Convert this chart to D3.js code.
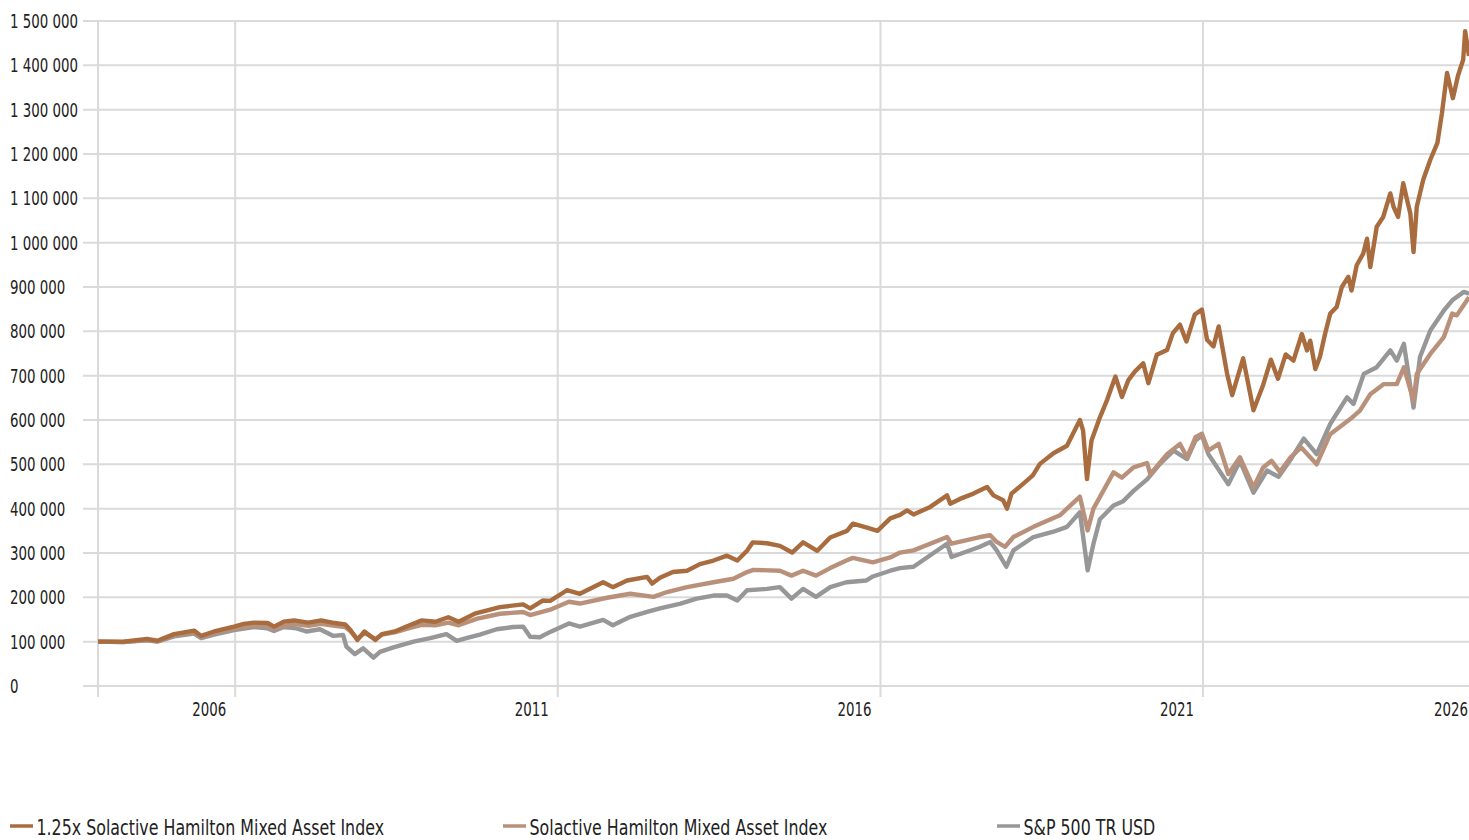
<!DOCTYPE html>
<html>
<head>
<meta charset="utf-8">
<script src="https://cdn.jsdelivr.net/npm/d3@7"></script>
<style>
  body { margin: 0; background: #fff; }
  text { font-family: "DejaVu Sans", sans-serif; font-size: 19px; fill: #222; }
</style>
</head>
<body>
<svg id="chart"></svg>
<script>
// values in thousands, dates as decimal years
const yTicks = [0, 100, 200, 300, 400, 500, 600, 700, 800, 900, 1000, 1100, 1200, 1300, 1400, 1500];
const startYear = 2004.87, endYear = 2026.12;
const yearEnds = ["2006-12-31", "2011-12-31", "2016-12-31", "2021-12-31"];

const seriesNames = ["1.25x Solactive Hamilton Mixed Asset Index", "Solactive Hamilton Mixed Asset Index", "S&P 500 TR USD"];
const seriesColors = ["#a86c3f", "#b9917a", "#979797"];

const levered = [
  [2004.87,100],[2005.26,100],[2005.63,106],[2005.79,102],[2006.05,117],[2006.36,125],[2006.47,113],[2006.67,123],
  [2006.98,134],[2007.13,140],[2007.29,143],[2007.50,142],[2007.60,134],[2007.75,145],[2007.91,148],[2008.13,143],
  [2008.33,148],[2008.54,142],[2008.70,139],[2008.78,127],[2008.89,104],[2009.00,123],[2009.17,104],[2009.27,117],
  [2009.47,123],[2009.68,136],[2009.89,148],[2010.10,145],[2010.30,155],[2010.46,145],[2010.71,163],[2011.10,178],
  [2011.46,184],[2011.57,175],[2011.77,193],[2011.88,192],[2012.14,216],[2012.34,208],[2012.70,234],[2012.85,223],
  [2013.07,238],[2013.38,246],[2013.46,231],[2013.58,244],[2013.78,257],[2014.00,260],[2014.20,275],[2014.41,283],
  [2014.62,294],[2014.78,283],[2014.93,305],[2015.02,324],[2015.24,322],[2015.44,316],[2015.63,301],[2015.80,324],
  [2016.02,305],[2016.22,335],[2016.48,350],[2016.57,366],[2016.79,357],[2016.95,350],[2017.15,378],[2017.30,386],
  [2017.41,396],[2017.51,387],[2017.77,404],[2018.03,430],[2018.08,411],[2018.23,422],[2018.44,434],[2018.65,449],
  [2018.75,430],[2018.90,419],[2018.96,400],[2019.03,434],[2019.21,456],[2019.36,475],[2019.47,501],[2019.68,525],
  [2019.89,542],[2020.09,600],[2020.14,576],[2020.20,467],[2020.27,554],[2020.40,606],[2020.51,645],[2020.64,698],
  [2020.74,652],[2020.84,690],[2020.94,709],[2021.07,728],[2021.15,683],[2021.28,747],[2021.44,758],[2021.53,796],
  [2021.64,815],[2021.74,777],[2021.87,838],[2021.98,849],[2022.06,781],[2022.16,766],[2022.24,811],[2022.37,705],
  [2022.45,656],[2022.62,739],[2022.78,622],[2022.93,679],[2023.05,736],[2023.16,693],[2023.28,748],[2023.40,734],
  [2023.53,794],[2023.61,757],[2023.66,779],[2023.74,715],[2023.81,742],[2023.89,794],[2023.97,840],[2024.07,855],
  [2024.15,900],[2024.25,923],[2024.30,892],[2024.38,949],[2024.48,975],[2024.54,1009],[2024.59,945],[2024.69,1036],
  [2024.79,1058],[2024.90,1111],[2024.95,1081],[2025.02,1058],[2025.10,1134],[2025.16,1096],[2025.21,1066],[2025.26,979],
  [2025.31,1081],[2025.41,1142],[2025.52,1187],[2025.63,1225],[2025.70,1292],[2025.78,1383],[2025.87,1326],[2025.95,1377],
  [2026.03,1413],[2026.06,1477],[2026.12,1421]
];

const mixed = [
  [2004.87,100],[2005.26,99],[2005.63,104],[2005.79,101],[2006.05,115],[2006.36,122],[2006.47,111],[2006.67,120],
  [2006.98,130],[2007.29,137],[2007.50,136],[2007.60,130],[2007.91,140],[2008.13,136],[2008.33,140],[2008.54,136],
  [2008.70,133],[2008.78,124],[2008.89,106],[2009.00,120],[2009.17,106],[2009.27,116],[2009.47,121],[2009.68,130],
  [2009.89,138],[2010.10,137],[2010.30,143],[2010.46,137],[2010.75,152],[2011.10,163],[2011.46,167],[2011.57,160],
  [2011.88,172],[2012.17,190],[2012.34,186],[2012.76,199],[2013.12,208],[2013.48,201],[2013.69,212],[2014.00,223],
  [2014.41,234],[2014.72,242],[2014.93,257],[2015.03,262],[2015.44,260],[2015.62,249],[2015.80,260],[2016.00,249],
  [2016.22,266],[2016.47,283],[2016.57,289],[2016.88,279],[2017.15,290],[2017.30,301],[2017.51,306],[2018.03,336],
  [2018.10,321],[2018.54,336],[2018.70,340],[2018.80,325],[2018.93,314],[2019.06,336],[2019.37,359],[2019.78,385],
  [2020.09,427],[2020.21,351],[2020.30,400],[2020.61,482],[2020.74,470],[2020.92,493],[2021.13,503],[2021.18,478],
  [2021.44,523],[2021.64,546],[2021.75,516],[2021.88,561],[2021.98,569],[2022.08,531],[2022.24,546],[2022.39,478],
  [2022.57,516],[2022.78,448],[2022.93,493],[2023.06,508],[2023.19,483],[2023.35,515],[2023.52,538],[2023.76,500],
  [2023.97,568],[2024.28,602],[2024.43,621],[2024.59,658],[2024.80,681],[2025.00,681],[2025.11,719],[2025.26,643],
  [2025.31,704],[2025.52,749],[2025.73,787],[2025.86,840],[2025.93,836],[2026.12,877]
];

const spx = [
  [2004.87,100],[2005.26,99],[2005.63,103],[2005.79,100],[2006.05,112],[2006.36,118],[2006.47,108],[2006.67,116],
  [2006.98,126],[2007.29,133],[2007.50,130],[2007.60,124],[2007.75,133],[2007.95,130],[2008.10,123],[2008.31,128],
  [2008.52,113],[2008.67,115],[2008.72,89],[2008.85,72],[2008.98,85],[2009.14,64],[2009.24,77],[2009.45,87],
  [2009.76,100],[2010.02,108],[2010.27,117],[2010.43,102],[2010.58,108],[2010.79,116],[2011.05,128],[2011.30,133],
  [2011.46,134],[2011.57,111],[2011.72,110],[2011.88,122],[2012.17,141],[2012.34,134],[2012.70,149],[2012.85,137],
  [2013.12,156],[2013.38,167],[2013.58,175],[2013.90,186],[2014.15,197],[2014.41,204],[2014.62,204],[2014.78,193],
  [2014.93,216],[2015.24,219],[2015.44,223],[2015.62,197],[2015.80,219],[2016.00,201],[2016.22,223],[2016.47,234],
  [2016.78,238],[2016.88,247],[2017.15,260],[2017.30,266],[2017.51,269],[2018.03,321],[2018.10,291],[2018.54,314],
  [2018.70,325],[2018.80,306],[2018.95,269],[2019.06,306],[2019.37,336],[2019.68,348],[2019.89,359],[2020.09,392],
  [2020.21,261],[2020.30,321],[2020.40,376],[2020.61,407],[2020.76,417],[2020.92,440],[2021.13,466],[2021.33,501],
  [2021.54,531],[2021.75,512],[2021.88,554],[2021.98,565],[2022.08,523],[2022.39,455],[2022.57,508],[2022.78,436],
  [2022.99,486],[2023.17,472],[2023.37,514],[2023.56,558],[2023.76,523],[2023.97,591],[2024.23,651],[2024.33,636],
  [2024.49,704],[2024.69,719],[2024.90,757],[2025.00,734],[2025.11,772],[2025.26,628],[2025.36,742],[2025.52,802],
  [2025.73,847],[2025.86,870],[2026.04,889],[2026.12,885]
];

const W = 1469, H = 840;
const gridLeft = 83, plotLeft = 98, plotRight = 1469, plotTop = 21, plotBottom = 686;

function yearToDate(t) {
  const yr = Math.floor(t);
  const a = new Date(yr, 0, 1), b = new Date(yr + 1, 0, 1);
  return new Date(+a + (t - yr) * (b - a));
}

// the original uses a condensed face; squeeze the installed font so a sample string gets the target width
function condense(sel, sample, targetWidth) {
  const probe = svg.append("text").style("font-size", sel.style("font-size")).text(sample);
  const k = targetWidth / probe.node().getComputedTextLength();
  probe.remove();
  sel.attr("transform", function () {
    const t = d3.select(this);
    return `translate(${t.attr("x")},${t.attr("y")}) scale(${k},1)`;
  }).attr("x", 0).attr("y", 0);
}

const svg = d3.select("#chart").attr("width", W).attr("height", H);

const x = d3.scaleTime()
  .domain([yearToDate(startYear), yearToDate(endYear)])
  .range([plotLeft, plotRight]);

const y = d3.scaleLinear().domain([0, 1500]).range([plotBottom, plotTop]);

const fmt = d3.formatLocale({ decimal: ",", thousands: " ", grouping: [3], currency: ["", ""] }).format(",");

// horizontal grid + labels
const yg = svg.append("g");
yg.selectAll("line").data(yTicks).enter().append("line")
  .attr("x1", gridLeft).attr("x2", plotRight)
  .attr("y1", d => y(d)).attr("y2", d => y(d))
  .style("stroke", "#dadada").style("stroke-width", 2);
const yLabels = yg.selectAll("text").data(yTicks).enter().append("text")
  .attr("x", 10).attr("y", d => y(d)).attr("dy", "0.36em")
  .text(d => fmt(d * 1000));
condense(yLabels, "1 500 000", 68);

// vertical grid (start of data + year ends)
const xGrid = [x.domain()[0]].concat(yearEnds.map(d => d3.timeParse("%Y-%m-%d")(d)));
svg.append("g").selectAll("line").data(xGrid).enter().append("line")
  .attr("x1", d => x(d)).attr("x2", d => x(d))
  .attr("y1", plotTop).attr("y2", plotBottom + 11)
  .style("stroke", "#dadada").style("stroke-width", 2);

const xg = svg.append("g");
xg.selectAll("text").data(xGrid.slice(1)).enter().append("text")
  .attr("x", d => x(d) - 26).attr("y", 709).attr("dy", "0.36em")
  .attr("text-anchor", "middle")
  .text(d3.timeFormat("%Y"));
xg.append("text")
  .attr("x", x(x.domain()[1]) - 1).attr("y", 709).attr("dy", "0.36em")
  .attr("text-anchor", "end")
  .text(d3.timeFormat("%Y")(x.domain()[1]));
condense(xg.selectAll("text"), "2006", 34);

// lines
const line = d3.line()
  .x(d => x(yearToDate(d[0])))
  .y(d => y(d[1]));

const allSeries = [levered, mixed, spx];
[2, 1, 0].forEach(i => {
  svg.append("path")
    .datum(allSeries[i])
    .attr("d", line)
    .style("fill", "none")
    .style("stroke", seriesColors[i])
    .style("stroke-width", 4.4)
    .style("stroke-linejoin", "round");
});

// legend
const legendX = [10, 503, 997];
const legend = svg.append("g").selectAll("g").data(seriesNames).enter().append("g")
  .attr("transform", (d, i) => `translate(${legendX[i]},826)`);
legend.append("line")
  .attr("x1", 0).attr("x2", 23)
  .style("stroke", (d, i) => seriesColors[i]).style("stroke-width", 3.5);
const legendText = legend.append("text")
  .attr("x", 26.5).attr("y", 8.8)
  .style("font-size", "21px")
  .text(d => d);
condense(legendText, "Solactive Hamilton Mixed Asset Index", 298);
</script>
</body>
</html>
